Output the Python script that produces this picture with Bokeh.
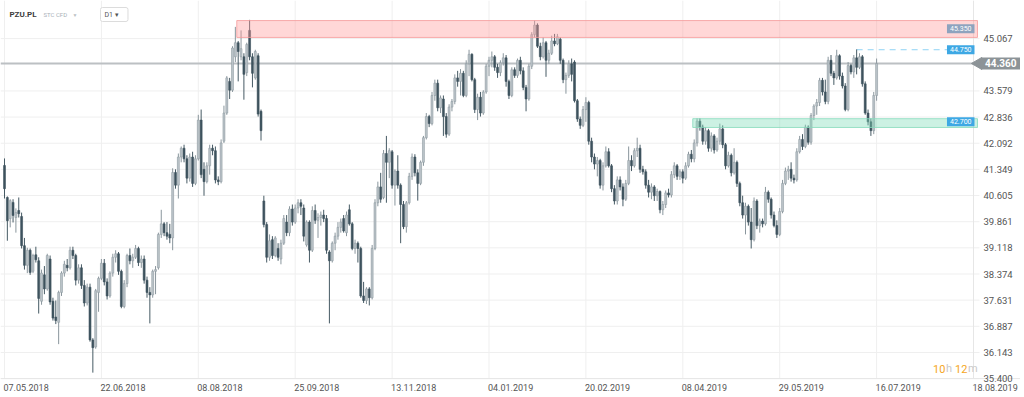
from bokeh.plotting import figure
from bokeh.models import Range1d, BoxAnnotation, Label, ColumnDataSource
from bokeh.embed import file_html
from bokeh.resources import INLINE
import math

# ---------------- data (daily candles, PZU.PL) ----------------
open_ = [
    41.46, 40.55, 39.95, 40.41, 39.98, 40.18, 40.01, 39.18, 38.62, 39.05,
    38.45, 38.92, 38.75, 37.60, 38.35, 37.95, 38.80, 37.60, 37.15, 37.00,
    37.85, 38.40, 38.62, 38.55, 39.05, 38.90, 38.20, 38.55, 38.05, 37.55,
    38.00, 36.50, 36.30, 37.85, 38.25, 38.68, 38.15, 37.75, 38.40, 38.85,
    38.95, 38.45, 37.45, 38.10, 38.90, 38.75, 38.85, 39.10, 38.70, 38.80,
    38.20, 37.85, 37.78, 38.45, 38.55, 39.50, 39.80, 39.55, 39.50, 39.40,
    41.26, 40.90, 41.70, 41.95, 41.65, 41.10, 41.70, 40.95, 41.65, 42.75,
    41.35, 41.00, 41.45, 41.95, 41.88, 41.05, 41.00, 42.15, 42.95, 43.85,
    43.60, 44.55, 44.95, 44.55, 44.55, 44.10, 45.30, 44.55, 43.95, 44.58,
    43.00, 40.45, 39.78, 38.85, 39.35, 38.90, 39.10, 38.80, 39.25, 39.85,
    39.55, 40.22, 39.85, 40.25, 40.40, 40.25, 39.20, 39.85, 39.05, 40.18,
    39.90, 39.98, 40.05, 39.95, 39.00, 38.75, 39.25, 39.45, 39.70, 39.95,
    39.55, 40.20, 39.80, 39.10, 39.25, 39.10, 37.75, 37.62, 37.95, 37.70,
    39.10, 40.40, 40.85, 40.55, 41.80, 41.55, 41.85, 40.90, 41.30, 40.90,
    40.35, 39.72, 40.40, 41.15, 41.70, 41.25, 40.95, 41.55, 42.25, 42.85,
    42.65, 43.45, 43.80, 43.10, 43.35, 42.85, 42.35, 43.12, 43.28, 43.95,
    43.85, 44.08, 43.45, 44.35, 44.62, 43.90, 43.05, 43.40, 42.95, 43.55,
    44.28, 44.45, 44.55, 44.25, 44.10, 44.38, 44.52, 43.85, 43.45, 44.18,
    44.02, 44.45, 44.15, 43.68, 43.35, 44.28, 45.18, 45.45, 44.85, 44.55,
    44.95, 44.45, 44.65, 45.00, 44.92, 45.05, 44.45, 43.90, 44.02, 44.35,
    44.40, 43.30, 42.78, 42.60, 43.05, 43.25, 42.15, 41.70, 41.50, 41.60,
    40.90, 41.45, 41.85, 41.45, 40.80, 40.45, 41.05, 40.85, 40.50, 40.95,
    41.60, 41.45, 41.88, 41.95, 41.35, 41.28, 40.90, 40.70, 40.85, 40.60,
    40.72, 40.20, 40.35, 40.68, 40.62, 41.20, 41.45, 41.15, 41.28, 41.10,
    41.45, 41.78, 41.65, 42.10, 42.72, 42.55, 42.15, 42.45, 41.95, 42.30,
    41.90, 42.15, 42.50, 42.05, 41.45, 41.75, 41.25, 41.55, 40.95, 40.40,
    40.05, 40.30, 39.85, 39.35, 40.45, 39.75, 39.88, 39.80, 40.70, 40.50,
    40.05, 39.75, 39.50, 40.15, 40.95, 41.30, 41.35, 41.10, 41.05, 41.85,
    42.20, 42.00, 42.55, 42.12, 42.88, 43.15, 43.25, 43.88, 43.55, 43.28,
    44.45, 44.08, 43.95, 44.58, 44.00, 43.72, 43.05, 44.30, 44.12, 44.52,
    44.25, 44.55, 43.78, 42.95, 42.70, 42.45, 43.45,
]
high = [
    41.66, 40.58, 40.50, 40.50, 40.24, 40.55, 40.12, 39.40, 39.12, 39.10,
    38.95, 39.15, 38.85, 38.50, 38.60, 38.95, 38.90, 37.70, 37.62, 37.90,
    38.45, 38.75, 38.80, 39.15, 39.15, 38.95, 38.65, 38.65, 38.20, 38.10,
    38.10, 36.55, 37.95, 38.30, 38.80, 38.80, 38.25, 38.45, 38.95, 39.05,
    39.00, 38.50, 38.20, 38.95, 39.10, 38.95, 39.20, 39.15, 38.90, 38.90,
    38.30, 38.00, 38.50, 38.60, 39.55, 40.20, 39.85, 39.85, 39.80, 41.38,
    41.35, 41.80, 42.00, 42.05, 41.75, 41.80, 41.85, 41.75, 42.90, 43.05,
    41.55, 41.55, 42.05, 42.05, 42.00, 41.15, 42.20, 43.16, 44.00, 43.95,
    44.85, 45.40, 45.00, 45.30, 44.65, 44.95, 45.60, 44.65, 44.75, 44.65,
    43.05, 40.60, 39.85, 39.50, 39.45, 39.45, 39.25, 39.35, 40.05, 40.05,
    40.30, 40.35, 40.35, 40.50, 40.50, 40.35, 39.90, 39.90, 40.30, 40.35,
    40.10, 40.15, 40.20, 40.05, 39.05, 39.30, 39.55, 39.85, 39.95, 40.05,
    40.15, 40.35, 39.85, 39.35, 39.30, 39.15, 38.15, 38.00, 38.00, 39.20,
    40.50, 41.00, 41.25, 41.90, 42.30, 41.95, 41.90, 41.35, 41.75, 40.95,
    40.45, 40.45, 41.25, 41.80, 41.78, 41.35, 41.60, 42.30, 42.95, 42.90,
    43.55, 43.90, 43.90, 43.45, 43.45, 42.95, 43.20, 43.35, 44.05, 44.15,
    44.20, 44.15, 44.45, 44.75, 44.65, 43.95, 43.50, 43.55, 43.60, 44.35,
    44.55, 44.70, 44.60, 44.35, 44.45, 44.65, 44.60, 43.90, 44.25, 44.25,
    44.50, 44.55, 44.25, 43.75, 44.35, 45.25, 45.58, 45.50, 44.95, 45.10,
    45.00, 44.75, 45.15, 45.20, 45.20, 45.10, 44.50, 44.10, 44.45, 44.50,
    44.45, 43.35, 42.85, 43.15, 43.40, 43.30, 42.25, 41.80, 41.70, 41.65,
    41.55, 42.00, 41.95, 41.50, 40.90, 41.15, 41.15, 40.95, 41.05, 42.00,
    41.75, 41.95, 42.25, 42.05, 41.45, 41.35, 41.05, 40.95, 40.90, 40.80,
    40.75, 40.45, 40.75, 40.80, 41.30, 41.55, 41.50, 41.35, 41.35, 41.55,
    41.85, 41.90, 42.20, 42.80, 42.80, 42.62, 42.55, 42.50, 42.40, 42.35,
    42.25, 42.65, 42.60, 42.10, 41.85, 41.80, 41.95, 41.60, 41.00, 40.60,
    40.40, 40.35, 40.25, 40.55, 40.50, 39.95, 39.95, 40.85, 40.75, 40.55,
    40.15, 39.90, 40.25, 41.05, 41.40, 41.45, 41.55, 41.20, 41.95, 42.30,
    42.35, 42.62, 42.60, 42.95, 43.20, 43.35, 43.95, 43.95, 43.90, 44.55,
    44.60, 44.15, 44.75, 44.62, 44.10, 43.80, 44.40, 44.35, 44.60, 44.76,
    44.65, 44.60, 43.85, 43.05, 42.80, 43.55, 44.50,
]
low = [
    40.52, 39.32, 39.70, 39.84, 39.55, 39.98, 39.10, 38.50, 38.40, 38.35,
    38.40, 38.70, 37.25, 37.50, 37.80, 37.90, 37.50, 37.05, 36.95, 36.38,
    37.75, 38.30, 38.45, 38.50, 38.80, 38.05, 38.10, 37.95, 37.45, 37.48,
    36.45, 35.57, 36.25, 37.30, 38.20, 38.05, 37.65, 37.70, 38.30, 38.70,
    38.35, 37.40, 37.40, 38.00, 38.65, 38.55, 38.80, 38.60, 38.55, 38.10,
    37.70, 36.97, 37.70, 37.80, 38.50, 39.40, 39.45, 39.35, 39.25, 39.05,
    40.80, 40.52, 41.55, 41.55, 40.95, 41.00, 40.85, 40.90, 41.60, 41.10,
    40.60, 40.95, 41.20, 41.75, 40.95, 40.90, 40.95, 42.10, 42.90, 43.35,
    43.55, 44.40, 43.85, 44.45, 43.33, 44.00, 44.45, 43.68, 43.90, 42.85,
    42.17, 39.70, 38.70, 38.75, 38.80, 38.85, 38.75, 38.65, 39.20, 39.45,
    39.45, 39.75, 39.80, 40.10, 40.05, 39.30, 39.15, 38.70, 39.00, 39.80,
    39.40, 39.75, 39.85, 38.95, 36.97, 38.70, 39.05, 39.35, 39.55, 39.55,
    39.45, 39.75, 39.05, 38.95, 38.70, 37.70, 37.55, 37.52, 37.48, 37.65,
    39.05, 40.30, 40.40, 40.50, 40.40, 41.10, 40.80, 40.32, 40.80, 39.25,
    39.65, 39.55, 40.35, 41.05, 41.15, 40.46, 40.90, 41.45, 42.20, 42.55,
    42.60, 43.30, 43.00, 42.95, 42.30, 42.25, 42.30, 43.00, 43.20, 43.70,
    43.45, 43.40, 43.40, 44.00, 43.85, 42.95, 42.75, 42.85, 42.90, 43.50,
    44.00, 44.25, 44.15, 43.95, 44.00, 44.30, 43.70, 43.35, 43.40, 43.95,
    43.95, 44.05, 43.60, 43.00, 43.30, 44.20, 45.10, 44.80, 44.45, 44.50,
    43.98, 44.35, 44.60, 44.85, 44.88, 44.35, 43.80, 43.50, 43.95, 43.85,
    43.25, 42.70, 42.50, 42.55, 42.70, 42.05, 41.55, 41.35, 41.15, 40.80,
    40.75, 41.40, 41.40, 40.70, 40.35, 40.35, 40.75, 40.30, 40.45, 40.90,
    41.30, 41.40, 41.70, 41.25, 41.20, 40.80, 40.55, 40.50, 40.45, 40.45,
    40.10, 40.05, 40.25, 40.55, 40.55, 41.10, 41.05, 41.05, 40.95, 41.05,
    41.40, 41.55, 41.55, 42.00, 42.45, 42.05, 42.05, 41.85, 41.85, 41.80,
    41.85, 42.05, 41.95, 41.35, 41.40, 41.15, 41.20, 40.85, 40.30, 39.95,
    39.50, 39.75, 39.10, 39.30, 39.65, 39.55, 39.70, 39.75, 40.40, 39.95,
    39.70, 39.40, 39.45, 40.10, 40.90, 41.05, 41.00, 40.95, 41.00, 41.80,
    41.90, 41.95, 42.05, 42.05, 42.75, 42.90, 43.15, 43.45, 43.20, 43.20,
    44.00, 43.75, 43.90, 43.90, 43.65, 43.00, 43.00, 44.05, 43.95, 44.05,
    44.20, 43.70, 42.90, 42.60, 42.30, 42.35, 43.30,
]
close = [
    40.80, 39.89, 40.46, 40.04, 40.12, 40.09, 39.18, 38.62, 39.05, 38.42,
    38.90, 38.78, 37.68, 38.40, 37.95, 38.90, 37.58, 37.12, 37.05, 37.85,
    38.40, 38.65, 38.55, 39.05, 38.90, 38.20, 38.55, 38.05, 37.55, 38.00,
    36.50, 36.28, 37.90, 38.25, 38.68, 38.15, 37.75, 38.40, 38.85, 38.95,
    38.45, 37.45, 38.10, 38.90, 38.75, 38.85, 39.10, 38.70, 38.80, 38.20,
    37.85, 37.78, 38.45, 38.50, 39.50, 39.80, 39.55, 39.45, 39.40, 41.26,
    40.90, 41.70, 41.95, 41.65, 41.10, 41.70, 40.95, 41.65, 42.75, 41.20,
    41.00, 41.45, 41.95, 41.88, 41.05, 41.00, 42.10, 42.95, 43.95, 43.60,
    44.80, 44.95, 44.70, 44.78, 44.05, 44.90, 44.55, 44.08, 44.70, 42.92,
    42.45, 39.78, 38.85, 39.32, 38.90, 39.40, 38.85, 39.25, 39.95, 39.55,
    40.22, 39.85, 40.25, 40.40, 40.30, 39.45, 39.85, 39.05, 40.18, 39.90,
    39.98, 40.05, 39.95, 39.05, 38.75, 39.25, 39.45, 39.70, 39.85, 39.60,
    40.05, 39.80, 39.10, 39.25, 39.10, 37.75, 37.62, 37.95, 37.70, 39.10,
    40.40, 40.85, 40.50, 41.80, 41.55, 41.88, 40.90, 41.30, 40.90, 40.35,
    39.72, 40.40, 41.15, 41.70, 41.25, 40.95, 41.55, 42.25, 42.85, 42.65,
    43.45, 43.80, 43.10, 43.38, 42.85, 42.35, 43.12, 43.28, 43.95, 43.85,
    44.08, 43.45, 44.35, 44.62, 43.90, 43.05, 43.40, 42.95, 43.55, 44.28,
    44.45, 44.55, 44.25, 44.10, 44.38, 44.52, 43.85, 43.45, 44.18, 44.02,
    44.45, 44.15, 43.68, 43.35, 44.28, 45.18, 45.45, 44.85, 44.55, 44.95,
    44.45, 44.65, 45.00, 44.92, 45.12, 44.45, 43.90, 44.02, 44.35, 44.05,
    43.30, 42.78, 42.60, 43.05, 43.25, 42.15, 41.70, 41.50, 41.60, 40.90,
    41.45, 41.85, 41.45, 40.80, 40.45, 41.05, 40.85, 40.50, 40.95, 41.60,
    41.45, 41.88, 41.95, 41.35, 41.28, 40.90, 40.70, 40.85, 40.60, 40.72,
    40.20, 40.35, 40.68, 40.62, 41.20, 41.45, 41.15, 41.28, 41.10, 41.45,
    41.78, 41.65, 42.10, 42.72, 42.55, 42.15, 42.45, 41.95, 42.30, 41.90,
    42.15, 42.50, 42.05, 41.45, 41.75, 41.25, 41.55, 40.95, 40.40, 40.05,
    40.30, 39.85, 39.35, 40.45, 39.75, 39.88, 39.80, 40.70, 40.50, 40.05,
    39.75, 39.50, 40.15, 40.95, 41.30, 41.35, 41.10, 41.05, 41.85, 42.20,
    42.00, 42.55, 42.12, 42.88, 43.15, 43.25, 43.88, 43.55, 43.28, 44.45,
    44.08, 43.95, 44.58, 44.00, 43.72, 43.05, 44.30, 44.12, 44.52, 44.25,
    44.55, 43.78, 42.95, 42.70, 42.45, 43.45, 44.36,
]

# x-axis: bar index of each date label
tick_bars = [0, 34, 68, 102, 136, 170, 204, 238, 272, 306, 340]
tick_dates = ["07.05.2018", "22.06.2018", "08.08.2018", "25.09.2018", "13.11.2018",
              "04.01.2019", "20.02.2019", "08.04.2019", "29.05.2019", "16.07.2019",
              "18.08.2019"]
price_ticks = [35.400, 36.143, 36.887, 37.631, 38.374, 39.118, 39.861, 40.605,
               41.349, 42.092, 42.836, 43.579, 45.067]

# resistance / support zones
zone_bottom = [45.10, 42.54]
zone_top = [45.58, 42.79]
zone_start_bar = [81.5, 241.5]
zone_label = ["45.350", "42.700"]
# dashed level from the recent high
dash_level = 44.75
dash_label = "44.750"
dash_start_bar = 299

# ---------------- layout (chart area inside the canvas) ----------------
W, H = 1020, 395
X_MIN, X_MAX = -1.404, 356.49        # bar-index span of the canvas
Y_MIN, Y_MAX = 34.92, 46.15          # price span of the canvas
CHART_RIGHT = 341.4                  # right edge of the candle area
LABEL_X = 343.5                      # where price labels start
FONT = "Roboto"
GRID = "#efefef"
TXT = "#555555"

p = figure(width=W, height=H, x_range=Range1d(X_MIN, X_MAX),
           y_range=Range1d(Y_MIN, Y_MAX), toolbar_location=None,
           output_backend="svg", min_border=0)
p.axis.visible = False
p.grid.visible = False
p.outline_line_color = None
p.background_fill_color = "white"
p.border_fill_color = "white"

# grid lines
p.segment(x0=tick_bars, y0=[price_ticks[0]] * len(tick_bars), x1=tick_bars,
          y1=[Y_MAX] * len(tick_bars), line_color=GRID, line_width=1)
p.segment(x0=[X_MIN] * len(price_ticks), y0=price_ticks,
          x1=[CHART_RIGHT + 0.7] * len(price_ticks), y1=price_ticks,
          line_color=GRID, line_width=1)
# axis lines
p.segment(x0=[X_MIN], y0=[price_ticks[0]], x1=[X_MAX], y1=[price_ticks[0]],
          line_color="#e6e6e6", line_width=1)
p.segment(x0=[tick_bars[-1]], y0=[price_ticks[0]], x1=[tick_bars[-1]], y1=[Y_MAX],
          line_color="#e6e6e6", line_width=1)

# zones
zone_fill = ["#ff9a9a", "#7fdcb9"]
zone_line = ["#f59a9a", "#86d9bb"]
for b, t, s, fc, lc in zip(zone_bottom, zone_top, zone_start_bar, zone_fill, zone_line):
    p.add_layout(BoxAnnotation(left=s, right=CHART_RIGHT, bottom=b, top=t,
                               fill_color=fc, fill_alpha=0.4,
                               line_color=lc, line_alpha=0.8, line_width=1))

# current price line
p.line(x=[X_MIN, CHART_RIGHT], y=[close[-1], close[-1]], line_color="#bcc0c3",
       line_width=2)

# dashed level
p.line(x=[dash_start_bar, CHART_RIGHT - 10.4], y=[dash_level, dash_level],
       line_color="#8fd3f5", line_dash="6 5", line_width=1)

# candles
N = len(close)
xs = list(range(N))
up = [c >= o for o, c in zip(open_, close)]
src = ColumnDataSource(dict(
    x=xs,
    top=[max(o, c) for o, c in zip(open_, close)],
    bottom=[min(o, c) for o, c in zip(open_, close)],
    high=high, low=low,
    fill=["#bcc5ca" if u else "#3e535e" for u in up],
    line=["#909ca3" if u else "#3e535e" for u in up],
    wick=["#8a969d" if u else "#465a64" for u in up],
))
p.segment(x0="x", y0="high", x1="x", y1="low", line_color="wick", line_width=1, source=src)
p.vbar(x="x", width=0.68, top="top", bottom="bottom", fill_color="fill",
       line_color="line", line_width=0.6, source=src)

# level tags on the right edge of the chart area
tags = [(float(zone_label[0]), zone_label[0], "#8ea3be"),
        (dash_level, dash_label, "#3ea8e4"),
        (float(zone_label[1]), zone_label[1], "#3ea8e4")]
for yv, txt, bg in tags:
    p.add_layout(Label(x=CHART_RIGHT, y=yv, x_offset=-3, text=txt, text_align="right",
                       text_baseline="middle", text_color="white", text_font=FONT,
                       text_font_size="7px", background_fill_color=bg,
                       padding=(3, 2)))

# price axis labels
for v in price_ticks:
    p.add_layout(Label(x=LABEL_X, y=v, text=f"{v:.3f}", text_align="left",
                       text_baseline="middle", text_font=FONT, text_font_size="9.5px",
                       text_color=TXT))

# current price tag with arrow
p.scatter(x=[CHART_RIGHT + 0.3], y=[close[-1]], marker="triangle", angle=math.pi / 2,
          size=12, fill_color="#8c9397", line_color="#8c9397")
p.add_layout(Label(x=LABEL_X - 0.9, y=close[-1], text=f"{close[-1]:.3f}",
                   text_align="left", text_baseline="middle", text_color="white",
                   text_font=FONT, text_font_size="10px", text_font_style="bold",
                   background_fill_color="#8c9397", padding=(4, 2)))

# date labels under the chart
for b, d in zip(tick_bars, tick_dates):
    p.add_layout(Label(x=b, y=price_ticks[0], x_offset=-1, y_offset=-9, text=d,
                       text_align="left", text_baseline="middle", text_font=FONT,
                       text_font_size="9px", text_color=TXT))

# header
p.add_layout(Label(x=X_MIN, y=Y_MAX, x_offset=9, y_offset=-14, text="PZU.PL",
                   text_baseline="middle", text_font=FONT, text_font_size="8px",
                   text_font_style="bold", text_color="#3c3c3c"))
p.add_layout(Label(x=X_MIN, y=Y_MAX, x_offset=43, y_offset=-14, text="STC CFD",
                   text_baseline="middle", text_font=FONT, text_font_size="6px",
                   text_color="#a9b1b8"))
p.add_layout(Label(x=X_MIN, y=Y_MAX, x_offset=72, y_offset=-14, text="▼",
                   text_baseline="middle", text_font_size="5px", text_color="#b9bec2"))
p.add_layout(Label(x=X_MIN, y=Y_MAX, x_offset=100, y_offset=-14, text="D1    ▾",
                   text_baseline="middle", text_font=FONT, text_font_size="7px",
                   text_color="#555555", background_fill_color="white",
                   border_line_color="#dcdcdc", padding=(4, 3), border_radius=2))

# countdown
timer = [("10", "#f5a623", 0), ("h", "#c9c9c9", 13), ("12", "#f5a623", 22), ("m", "#c9c9c9", 35)]
for txt, col, off in timer:
    p.add_layout(Label(x=325.8, y=price_ticks[0], x_offset=off, y_offset=10, text=txt,
                       text_baseline="middle", text_font=FONT, text_font_size="11px",
                       text_color=col))

open("out.html", "w").write(file_html(p, INLINE))
